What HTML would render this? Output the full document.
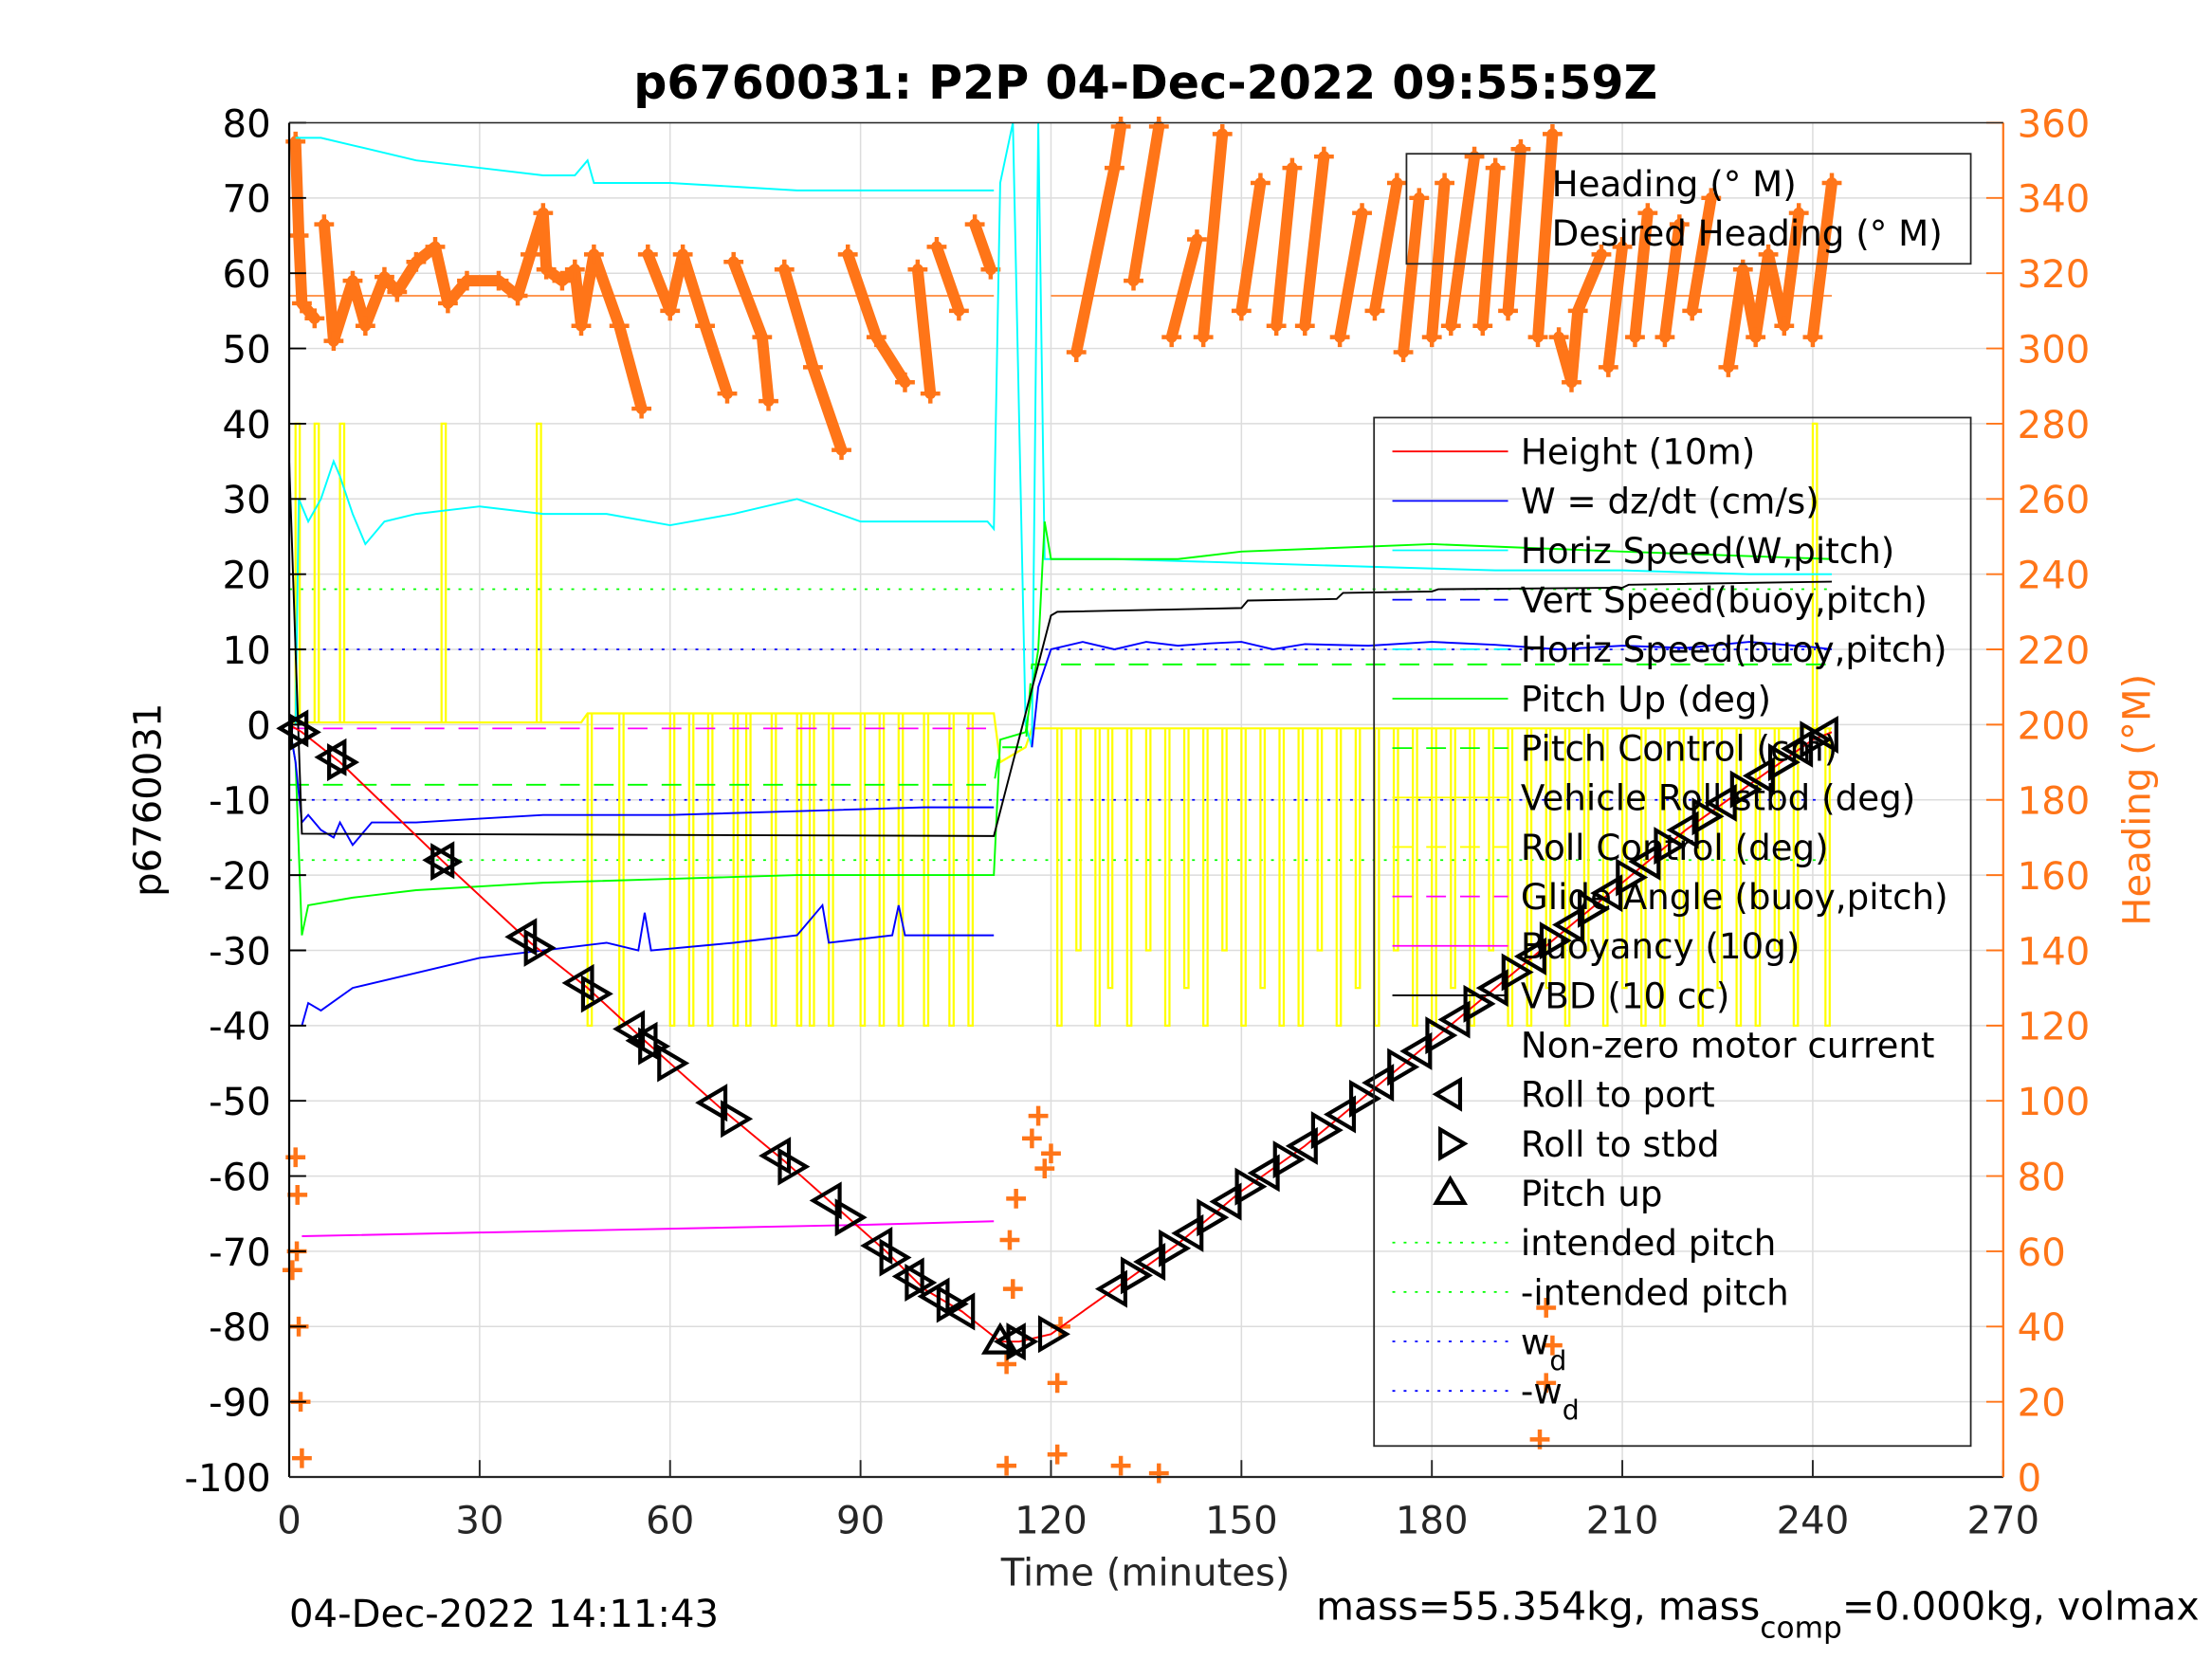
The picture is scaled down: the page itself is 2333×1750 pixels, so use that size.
<!DOCTYPE html>
<html><head><meta charset="utf-8"><style>
html,body{margin:0;padding:0;background:#fff;}
svg{display:block;font-family:"DejaVu Sans","Liberation Sans",sans-serif;}
</style></head><body>
<svg id="chart" width="2333" height="1750" viewBox="0 0 1568 1176" preserveAspectRatio="none" xmlns="http://www.w3.org/2000/svg">
<rect x="0" y="0" width="1568" height="1176" fill="#fff"/>
<g id="grid"></g>
<g id="heading"></g>
<g id="series"></g>
<g id="axes"></g>
<g id="legend"></g>
<text x="812" y="70" font-size="33" font-weight="bold" text-anchor="middle">p6760031: P2P 04-Dec-2022 09:55:59Z</text>
<text x="812" y="1124" font-size="27" text-anchor="middle" fill="#262626">Time (minutes)</text>
<text transform="translate(114,567) rotate(-90)" font-size="27" text-anchor="middle">p6760031</text>
<text transform="translate(1524,567) rotate(-90)" font-size="27" text-anchor="middle" fill="#ff7518">Heading (°M)</text>
<text x="205" y="1153" font-size="27">04-Dec-2022 14:11:43</text>
<text x="933" y="1148" font-size="27.5">mass=55.354kg, mass<tspan font-size="21" dy="13">comp</tspan><tspan dy="-13">=0.000kg, volmax</tspan></text>
</svg>
<script>
// ---- data ----
const xTicks=[0,30,60,90,120,150,180,210,240,270];
const yTicks=[80,70,60,50,40,30,20,10,0,-10,-20,-30,-40,-50,-60,-70,-80,-90,-100];
const y2Ticks=[0,20,40,60,80,100,120,140,160,180,200,220,240,260,280,300,320,340,360];
const depthT=[0,2,8,24,38,47,56,60,68,78,86,94,100,106,112,115,120,130,140,150,160,170,180,190,200,210,220,230,240,243];
const depthV=[0,-1,-5,-18,-29,-35,-42,-45,-51,-58,-64,-70,-75,-78,-82,-82,-81,-75,-69,-62,-56,-49,-42,-35,-28,-21,-14,-8,-2,-1];
const vbdT=[0,1,2,111,120,121,150,151,165,166,180,181,210,211,243];
const vbdV=[35,10,-14.5,-14.8,14.5,15,15.5,16.5,16.7,17.5,17.7,18,18.2,18.6,19];
const wT=[0,1,2,3,5,7,8,10,13,20,30,40,60,80,100,111,null,117,118,120,125,130,135,140,145,150,155,160,170,180,190,200,210,220,230,240,243];
const wV=[0,-5,-13,-12,-14,-15,-13,-16,-13,-13,-12.5,-12,-12,-11.5,-11,-11,null,-3,5,10,11,10,11,10.5,10.8,11,10,10.7,10.5,11,10.6,10,10.5,10.2,11,10.3,10];
const vsT=[2,3,5,10,20,30,40,50,55,56,57,70,80,84,85,95,96,97,110,111];
const vsV=[-40,-37,-38,-35,-33,-31,-30,-29,-30,-25,-30,-29,-28,-24,-29,-28,-24,-28,-28,-28];
const hsTopT=[1,5,10,20,30,40,45,47,48,60,70,80,90,100,110,111];
const hsTopV=[78,78,77,75,74,73,73,75,72,72,71.5,71,71,71,71,71];
const hsT=[1,1.5,3,5,7,8,10,12,15,20,30,40,50,60,70,80,90,100,110,111,112,114,116,117,118,119,130,150,170,190,210,230,243];
const hsV=[0,30,27,30,35,33,28,24,27,28,29,28,28,26.5,28,30,27,27,27,26,72,80,0,-3,80,22,22,21.5,21,20.5,20.5,20,20];
const pitchT=[0,1,2,3,10,20,40,60,80,111,112,116,118,119,120,130,140,150,180,210,243];
const pitchV=[0,-5,-28,-24,-23,-22,-21,-20.5,-20,-20,-2,-1,10,27,22,22,22,23,24,23,22];
const pcT=[0,111,112,116,117,243];
const pcV=[-8,-8,-3,-3,8,8];
const buoyT=[2,30,60,90,111];
const buoyV=[-68,-67.5,-67,-66.5,-66];
const rollT=[0,46,47,111,112,116,117,243];
const rollV=[0.3,0.3,1.5,1.5,-5,-3,-0.5,-0.5];
const rollSpikeT=[1,4,8,24,39,47,52,60,63,66,70,72,76,80,82,85,90,93,96,100,104,107,121,124,127,129,132,135,138,141,144,147,150,153,156,159,162,165,168,171,174,177,180,183,186,189,192,195,198,201,204,207,210,213,216,219,222,225,228,231,234,237,240,242];
const rollSpikeV=[40,40,40,40,40,-40,-40,-40,-40,-40,-40,-40,-40,-40,-40,-40,-40,-40,-40,-40,-40,-40,-40,-30,-40,-35,-40,-30,-40,-35,-40,-30,-40,-35,-40,-40,-30,-40,-35,-40,-30,-40,-40,-35,-40,-30,-40,-40,-35,-40,-30,-40,-35,-40,-40,-30,-40,-35,-40,-40,-30,-40,40,-40];
const hdgT=[1,1.5,2,4,5.5,7,10,12,15,17,20,23,25,28,33,36,38,40,40.5,43,45,46,48,52,55.5,56.5,60,62,65.5,69,70,74.5,75.5,78,82.5,87,88,92.5,97,99,101,102,105.5,108,110.5,
124,130,131,133,137,139,143,144,147,150,153,155.5,158,160,163,165.5,169,171,174.5,175.5,178,180,182,183,186.7,188,190,192,194,196.7,199,200,202,203,206.7,207.8,210,212,214,216.7,219,221,224,226.7,229,231,233,235.5,237.8,240,243];
const hdgV=[355,330,312,308,333,302,318,306,319,315,323,327,312,318,318,314,325,336,321,318,321,306,325,306,284,325,310,325,306,288,323,303,286,321,295,273,325,303,291,321,288,327,310,333,321,
299,348,359,318,359,303,329,303,357,310,344,306,348,306,351,303,336,310,344,299,340,303,344,306,351,306,348,310,353,303,357,303,291,310,325,295,327,303,336,303,333,310,340,295,321,303,325,306,336,303,344];
const hdgScatT=[0.5,1,1.2,1.3,1.5,1.8,2,113,113,113.5,114,114.5,117,118,119,120,121,121,121.5,131,137,197,198,198,199];
const hdgScatV=[55,85,60,75,40,20,5,3,30,63,50,74,90,96,82,86,6,25,40,3,1,10,25,45,35];
const desT=[0,111,null,120,243];
const desV=[314,314,null,314,314];
const markT=[1,2,7,8,24,24.3,37,39,46,48,54,56,57,60,67,70,77,79,85,88,93,95,98,99,102,104,106,112,114,115,120,130,133,136,139,142,145,148,151,154,157,160,163,166,169,172,175,178,181,184,187,190,193,196,199,202,205,208,211,214,217,220,223,226,229,232,235,238,240,242];
const markType=["L","R","L","R","L","R","L","R","L","R","L","L","R","R","L","R","L","R","L","R","L","R","L","R","L","R","L","U","L","R","R","L","R","L","R","L","R","L","R","L","R","L","R","L","R","L","R","L","R","L","R","L","R","L","R","L","R","L","R","L","R","L","R","L","R","L","R","L","R","L"];
const legendLabels=["Height (10m)","W = dz/dt (cm/s)","Horiz Speed(W,pitch)","Vert Speed(buoy,pitch)","Horiz Speed(buoy,pitch)","Pitch Up (deg)","Pitch Control (cm)","Vehicle Roll stbd (deg)","Roll Control (deg)","Glide Angle (buoy,pitch)","Buoyancy (10g)","VBD (10 cc)","Non-zero motor current","Roll to port","Roll to stbd","Pitch up","intended pitch","-intended pitch","w_d","-w_d"];

// ---- scales ----
const X0=205,X1=1420,YT=87,YB=1047;
const X=t=>X0+t*(X1-X0)/270;
const Y=v=>YT+(80-v)*(YB-YT)/180;
const YR=h=>YB-h*(YB-YT)/360;
const NS="http://www.w3.org/2000/svg";
function mk(tag,attrs,parent){const e=document.createElementNS(NS,tag);for(const k in attrs)e.setAttribute(k,attrs[k]);parent.appendChild(e);return e;}
function pathFrom(ts,vs,sy){let d="",pen=false;for(let i=0;i<ts.length;i++){if(ts[i]===null){pen=false;continue;}d+=(pen?"L":"M")+X(ts[i]).toFixed(1)+","+sy(vs[i]).toFixed(1);pen=true;}return d;}
const grid=document.getElementById('grid'),axes=document.getElementById('axes'),ser=document.getElementById('series'),hd=document.getElementById('heading'),lg=document.getElementById('legend');

// grid + ticks
xTicks.forEach(t=>{const l=mk('line',{x1:X(t),x2:X(t),y1:YT,y2:YB,stroke:'#dcdcdc','stroke-width':1},grid);
 const tx=mk('text',{x:X(t),y:1087,'font-size':27,'text-anchor':'middle',fill:'#262626'},axes);tx.textContent=t;
 mk('line',{x1:X(t),x2:X(t),y1:YB,y2:YB-12,stroke:'#262626','stroke-width':1.3},axes);});
yTicks.forEach(v=>{const l=mk('line',{x1:X0,x2:X1,y1:Y(v),y2:Y(v),stroke:'#dcdcdc','stroke-width':1},grid);
 const tx=mk('text',{x:192,y:Y(v)+10,'font-size':27,'text-anchor':'end',fill:'#000'},axes);tx.textContent=v;
 mk('line',{x1:X0,x2:X0+12,y1:Y(v),y2:Y(v),stroke:'#000','stroke-width':1.3},axes);});
y2Ticks.forEach(h=>{const tx=mk('text',{x:1430,y:YR(h)+10,'font-size':27,fill:'#ff7518'},axes);tx.textContent=h;
 mk('line',{x1:X1,x2:X1-12,y1:YR(h),y2:YR(h),stroke:'#ff7518','stroke-width':1.3},axes);});
mk('line',{x1:X0,x2:X0,y1:YT,y2:YB,stroke:'#000','stroke-width':1.5},axes);
mk('line',{x1:X0,x2:X1,y1:YB,y2:YB,stroke:'#262626','stroke-width':1.5},axes);
mk('line',{x1:X1,x2:X1,y1:YT,y2:YB,stroke:'#ff7518','stroke-width':1.5},axes);
mk('line',{x1:X0,x2:X1,y1:YT,y2:YT,stroke:'#262626','stroke-width':1},axes);

// legend boxes
let b=mk('rect',{x:997,y:109,width:400,height:78,fill:'none',stroke:'#262626','stroke-width':1.2},lg);
b=mk('rect',{x:974,y:296,width:423,height:729,fill:'none',stroke:'#262626','stroke-width':1.2},lg);
[["Heading (° M)",130],["Desired Heading (° M)",165]].forEach(([s,y])=>{const t=mk('text',{x:1100,y:y+9,'font-size':25},lg);t.textContent=s;});
function tri(type,cx,cy,s,parent){let p;if(type==="L")p=[[cx-s,cy],[cx+s*0.7,cy-s],[cx+s*0.7,cy+s]];else if(type==="R")p=[[cx+s,cy],[cx-s*0.7,cy-s],[cx-s*0.7,cy+s]];else p=[[cx,cy-s],[cx-s,cy+s*0.7],[cx+s,cy+s*0.7]];
 return mk('polygon',{points:p.map(q=>q.join(',')).join(' '),fill:'none',stroke:'#000','stroke-width':2.8},parent);}
const lgStyle=[["#ff0000",""],["#0000ff",""],["#00ffff",""],["#0000ff","14 10"],["#00ffff","14 10"],["#00ff00",""],["#00ff00","14 10"],["#ffff00",""],["#ffff00","14 10"],["#ff00ff","14 10"],["#ff00ff",""],["#000",""],[null],["L"],["R"],["U"],["#00ff00","2 6"],["#00ff00","2 6"],["#0000ff","2 6"],["#0000ff","2 6"]];
legendLabels.forEach((s,i)=>{const y=320+i*35.05;const st=lgStyle[i];
 if(st[0]==="L"||st[0]==="R"||st[0]==="U"){const m=tri(st[0],1028,y,10,lg);}
 else if(st[0]){const l=mk('line',{x1:987,x2:1069,y1:y,y2:y,stroke:st[0],'stroke-width':1.2},lg);if(st[1])l.setAttribute('stroke-dasharray',st[1]);}
 const t=mk('text',{x:1078,y:y+9,'font-size':25},lg);
 if(s.startsWith("w_d")||s.startsWith("-w_d")){t.textContent=s.replace("_d","");const sub=mk('tspan',{'font-size':19,dy:11},t);sub.textContent="d";}else t.textContent=s;});

// reference lines
[[18,"#00ff00"],[-18,"#00ff00"],[10,"#0000ff"],[-10,"#0000ff"]].forEach(([v,c])=>{const l=mk('line',{x1:X(0),x2:X(243),y1:Y(v),y2:Y(v),stroke:c,'stroke-width':1.2,'stroke-dasharray':'2 6'},ser);});

// heading
let e=mk('path',{d:pathFrom(desT,desV,YR),stroke:'#ff7518','stroke-width':1,fill:'none'},hd);
let hp="";for(let i=0;i<hdgT.length;i++){let jump=i===0||hdgT[i]-hdgT[i-1]>7;
 if(!jump){const d=hdgV[i]-hdgV[i-1];if(hdgT[i]<115&&d>20)jump=true;if(hdgT[i]>115&&d<-20)jump=true;}
 hp+=(jump?"M":"L")+X(hdgT[i]).toFixed(1)+","+YR(hdgV[i]).toFixed(1);}
e=mk('path',{d:hp,stroke:'#ff7518','stroke-width':8,fill:'none','stroke-linejoin':'round','stroke-linecap':'round'},hd);
function cross(t,h){const x=X(t),y=YR(h);const c=mk('path',{d:`M${x-7},${y}h14M${x},${y-7}v14`,stroke:'#ff7518','stroke-width':3},hd);}
hdgT.forEach((t,i)=>cross(t,hdgV[i]));
hdgScatT.forEach((t,i)=>cross(t,hdgScatV[i]));

// roll
e=mk('path',{d:pathFrom(rollT,rollV,Y),stroke:'#ffff00','stroke-width':1.5,fill:'none'},ser);
rollSpikeT.forEach((t,i)=>{const base=t<46?0.3:(t<112?1.5:-0.5);const l=mk('path',{d:`M${X(t)},${Y(base)}V${Y(rollSpikeV[i])}h3V${Y(base)}`,stroke:'#ffff00','stroke-width':1.5,fill:'none'},ser);});
e=mk('line',{x1:X(0),x2:X(111),y1:Y(-0.5),y2:Y(-0.5),stroke:'#ff00ff','stroke-width':1.2,'stroke-dasharray':'14 10'},ser);
const lines=[[hsTopT,hsTopV,'#00ffff','horiz-speed-top-line',''],[hsT,hsV,'#00ffff','horiz-speed-line',''],[pitchT,pitchV,'#00ff00','pitch-line',''],[pcT,pcV,'#00ff00','pitch-control-line','14 10'],[buoyT,buoyV,'#ff00ff','buoyancy-line',''],[vsT,vsV,'#0000ff','vert-speed-line',''],[wT,wV,'#0000ff','w-line',''],[vbdT,vbdV,'#000','vbd-line',''],[depthT,depthV,'#ff0000','depth-line','']];
lines.forEach(([ts,vs,c,n,da])=>{const p=mk('path',{d:pathFrom(ts,vs,Y),stroke:c,'stroke-width':1.3,fill:'none'},ser);if(da)p.setAttribute('stroke-dasharray',da);});
function interp(t){for(let i=1;i<depthT.length;i++)if(t<=depthT[i]){const f=(t-depthT[i-1])/(depthT[i]-depthT[i-1]);return depthV[i-1]+f*(depthV[i]-depthV[i-1]);}return depthV[depthV.length-1];}
markT.forEach((t,i)=>{const m=tri(markType[i],X(t),Y(interp(t)),11,ser);});
</script>
</body></html>
